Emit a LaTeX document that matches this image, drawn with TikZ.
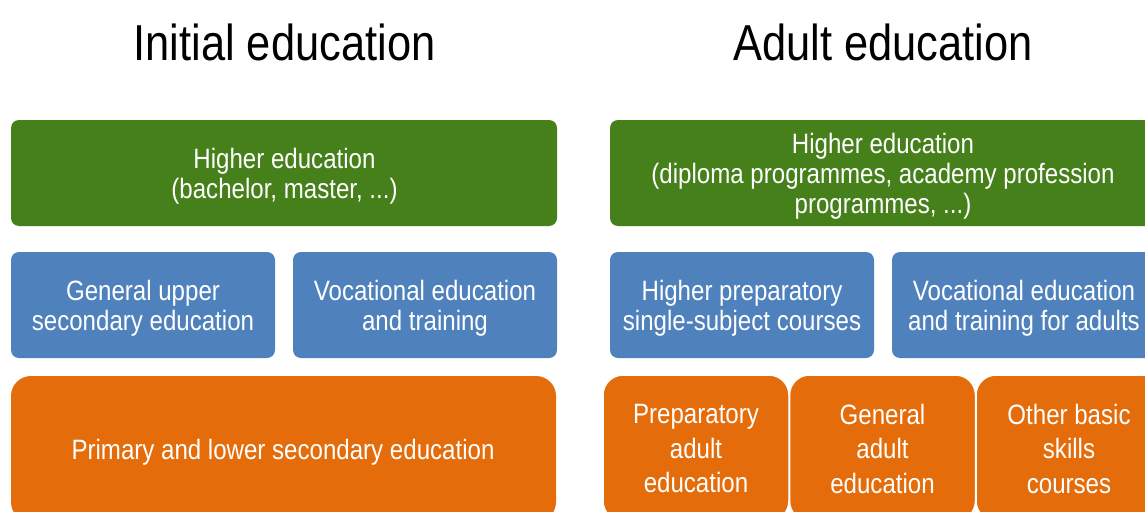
\documentclass[tikz,border=0pt]{standalone}
\usepackage{fontspec}
\setmainfont{Liberation Sans}[FakeStretch=0.86]
\definecolor{eduGreen}{HTML}{45801A}
\definecolor{eduBlue}{HTML}{4F81BD}
\definecolor{eduOrange}{HTML}{E46C0A}
\begin{document}
\begin{tikzpicture}[x=1pt,y=-1pt,
  box/.style={rounded corners=8pt, inner sep=0pt, minimum height=106pt},
  greenbox/.style={box, fill=eduGreen, minimum width=546pt},
  bluebox/.style={box, fill=eduBlue, minimum width=264pt},
  orangebox/.style={box, rounded corners=20pt, fill=eduOrange, minimum height=146pt},
  smallorange/.style={orangebox, draw=white, line width=1.5pt, minimum width=186pt},
  boxtext/.style={text=white, align=center, inner sep=0pt, font=\fontsize{28}{30}\selectfont},
  orangetext/.style={boxtext, font=\fontsize{28}{34.5}\selectfont},
  title/.style={font=\fontsize{50.5}{60}\selectfont, inner sep=0pt}]
\useasboundingbox (0,0) rectangle (1145,511);
\clip (0,0) rectangle (1145,511);
\node[title] (t1) at (284.5,42) {Initial education};
\node[title] (t2) at (883,42) {Adult education};
% boxes
\node[greenbox] (g1) at (284,173) {};
\node[greenbox] (g2) at (883,173) {};
\node[bluebox] (b1) at (143,305) {};
\node[bluebox] (b2) at (425,305) {};
\node[bluebox] (b3) at (742,305) {};
\node[bluebox] (b4) at (1024,305) {};
\node[orangebox, minimum width=545pt] (o1) at (283.5,449) {};
\node[smallorange] (o2) at (696,448) {};
\node[smallorange] (o3) at (882.5,448) {};
\node[smallorange] (o4) at (1069,448) {};
% texts
\node[boxtext] (g1t) at (284.5,176.5) {Higher education\\(bachelor, master, ...)};
\node[boxtext] (g2t) at (883,176.5) {Higher education\\(diploma programmes, academy profession\\programmes, ...)};
\node[boxtext] (b1t) at (143,308.5) {General upper\\secondary education};
\node[boxtext] (b2t) at (425,308.5) {Vocational education\\and training};
\node[boxtext] (b3t) at (742,308.5) {Higher preparatory\\single-subject courses};
\node[boxtext] (b4t) at (1024,308.5) {Vocational education\\and training for adults};
\node[boxtext] (o1t) at (283,452.5) {Primary and lower secondary education};
\node[orangetext] (o2t) at (696,448.5) {Preparatory\\adult\\education};
\node[orangetext] (o3t) at (882.5,448.5) {General\\adult\\education};
\node[orangetext] (o4t) at (1069,448.5) {Other basic\\skills\\courses};
\end{tikzpicture}
\end{document}
